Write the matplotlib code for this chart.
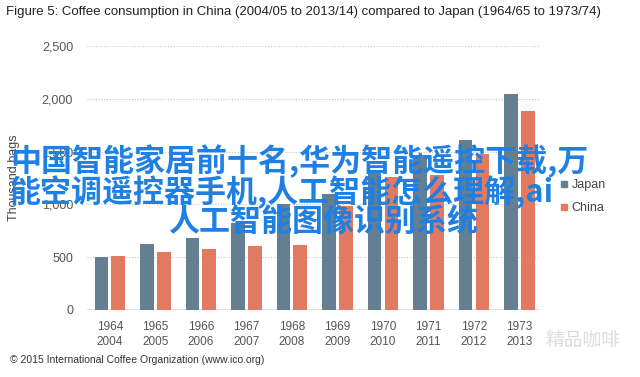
import numpy as np
import matplotlib
matplotlib.use("Agg")
import matplotlib.pyplot as plt
from matplotlib.lines import Line2D

# data (thousand bags)
years_japan = ["1964", "1965", "1966", "1967", "1968", "1969", "1970", "1971", "1972", "1973"]
years_china = ["2004", "2005", "2006", "2007", "2008", "2009", "2010", "2011", "2012", "2013"]
japan = [500, 622, 679, 820, 1000, 1094, 1300, 1472, 1610, 2045]
china = [510, 547, 575, 604, 620, 985, 1264, 1280, 1480, 1880]

title = "Figure 5: Coffee consumption in China (2004/05 to 2013/14) compared to Japan (1964/65 to 1973/74)"
source = "\u00a9 2015 International Coffee Organization (www.ico.org)"
overlay = ["中国智能家居前十名,华为智能遥控下载,万",
           "能空调遥控器手机,人工智能怎么理解,ai",
           "人工智能图像识别系统"]

japanColor = "#647f92"
chinaColor = "#e27a62"

plt.rcParams['font.family'] = ['Liberation Sans', 'DejaVu Sans']

fig = plt.figure(figsize=(6.4, 3.77), dpi=100)
ax = fig.add_axes([87 / 640, 1 - 310 / 377, 453 / 640, 264 / 377])

x = np.arange(len(japan))
w = 0.30
ax.bar(x - 0.185, japan, w, color=japanColor, zorder=3)
ax.bar(x + 0.185, china, w, color=chinaColor, zorder=3)

ax.set_xlim(-0.5, 9.45)
ax.set_ylim(0, 2500)
ax.set_yticks([0, 500, 1000, 1500, 2000, 2500])
ax.set_yticklabels(["0", "500", "1,000", "1,500", "2,000", "2,500"], fontsize=9, color="#555555")
ax.set_xticks(x)
ax.set_xticklabels([a + "\n" + b for a, b in zip(years_japan, years_china)],
                   fontsize=8.5, color="#555555", linespacing=1.3)
ax.tick_params(length=0, pad=10)
ax.tick_params(axis="x", pad=8)

for s in ax.spines.values():
  s.set_visible(False)
ax.grid(axis="y", color="#c8c8c8", linestyle=(0, (1, 1.5)), linewidth=0.8, zorder=0)
ax.axhline(0, color="#dddddd", linewidth=1.2, zorder=2)

ax.set_ylabel("Thousand bags", fontsize=9, color="#444444", labelpad=16)

handles = [Line2D([], [], marker="s", linestyle="", color=japanColor, markersize=5),
           Line2D([], [], marker="s", linestyle="", color=chinaColor, markersize=5)]
fig.legend(handles, ["Japan", "China"], loc="upper left", bbox_to_anchor=(549 / 640, 1 - 168 / 377),
           frameon=False, fontsize=9, handlelength=0.6, handletextpad=0.3, labelspacing=0.85,
           labelcolor="#444444")

fig.text(6 / 640, 1 - 12 / 377, title, fontsize=9.5, family=['Liberation Sans Narrow', 'Liberation Sans'],
         color="#222222", va="center", ha="left")
fig.text(10 / 640, 1 - 360 / 377, source, fontsize=7.5, color="#333333", va="center", ha="left")
fig.text(545 / 640, 1 - 340 / 377, "精品咖啡", fontsize=13.5, color="#dcdcdc", va="center", ha="left",
         family=['Noto Sans CJK SC', 'DejaVu Sans'])

# big overlay caption
cjk = ['Noto Sans CJK SC', 'DejaVu Sans']
blue = "#1f80e3"
fig.text(10 / 640, 1 - 161 / 377, overlay[0], fontsize=22.3, color=blue, weight="bold",
         family=cjk, va="center", ha="left", zorder=10)
fig.text(10 / 640, 1 - 192 / 377, overlay[1], fontsize=22.3, color=blue, weight="bold",
         family=cjk, va="center", ha="left", zorder=10)
fig.text(168 / 640, 1 - 222 / 377, overlay[2], fontsize=22.3, color=blue, weight="bold",
         family=cjk, va="center", ha="left", zorder=10)

fig.savefig("out.png", dpi=100)
